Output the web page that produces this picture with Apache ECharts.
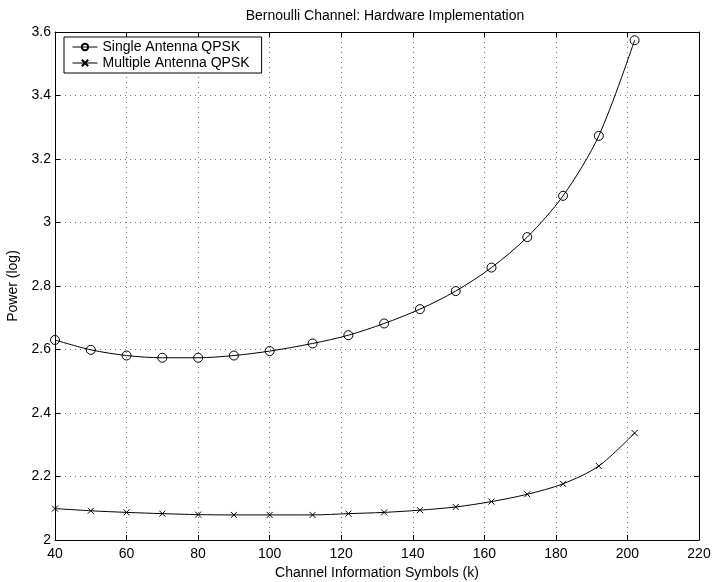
<!DOCTYPE html>
<html>
<head>
<meta charset="utf-8">
<script src="https://cdn.jsdelivr.net/npm/echarts@6/dist/echarts.min.js"></script>
<style>
html, body { margin: 0; padding: 0; background: #fff; }
#chart { width: 715px; height: 582px; }
</style>
</head>
<body>
<div id="chart"></div>
<script>
// data
var symbolsK = [40, 50, 60, 70, 80, 90, 100, 112, 122, 132, 142, 152, 162, 172, 182, 192, 202];
var singleQpsk = [2.630, 2.599, 2.581, 2.574, 2.574, 2.581, 2.595, 2.619, 2.645, 2.682, 2.727, 2.784, 2.858, 2.954, 3.084, 3.273, 3.574];
var multiQpsk = [2.099, 2.092, 2.087, 2.083, 2.080, 2.079, 2.079, 2.079, 2.083, 2.087, 2.094, 2.104, 2.121, 2.144, 2.177, 2.233, 2.337];

var font = 'Liberation Sans, Arial, Helvetica, sans-serif';
var fs = 14;
var circlePath = 'path://M0,5A5,5 0 1,1 10,5A5,5 0 1,1 0,5Z';
var crossPath = 'path://M0,0L10,10M10,0L0,10';

function pairs(ys) {
    return symbolsK.map(function (x, i) { return [x, ys[i]]; });
}

var chart = echarts.init(document.getElementById('chart'));

var gridLine = { show: true, lineStyle: { color: '#000', type: [1, 4], width: 1, opacity: 0.55 } };
var tick = { show: true, inside: true, length: 5, lineStyle: { color: '#000' } };
var line = { show: true, onZero: false, lineStyle: { color: '#000', width: 1 } };

chart.setOption({
    animation: false,
    backgroundColor: '#fff',
    title: {
        text: 'Bernoulli Channel: Hardware Implementation',
        left: 380, top: 4, textAlign: 'center',
        textStyle: { fontFamily: font, fontSize: fs, fontWeight: 'normal', color: '#000' }
    },
    grid: { left: 55, right: 16, top: 32, bottom: 42, outerBoundsMode: 'none' },
    legend: {
        orient: 'vertical',
        left: 64, top: 37,
        itemWidth: 25, itemHeight: 8, itemGap: 2,
        padding: [3, 12, 3, 8],
        borderColor: '#000', borderWidth: 1, backgroundColor: '#fff',
        lineStyle: { width: 1 },
        textStyle: { fontFamily: font, fontSize: fs, color: '#000' },
        data: ['Single Antenna QPSK', 'Multiple Antenna QPSK']
    },
    xAxis: [{
        type: 'value', min: 40, max: 220, interval: 20,
        name: 'Channel Information Symbols (k)', nameLocation: 'middle', nameGap: 25,
        nameTextStyle: { fontFamily: font, fontSize: fs, color: '#000' },
        axisLine: line, axisTick: tick, splitLine: gridLine,
        axisLabel: { fontFamily: font, fontSize: fs, color: '#000', margin: 7 }
    }, {
        type: 'value', min: 40, max: 220, interval: 20, position: 'top',
        axisLine: line, axisTick: tick, splitLine: { show: false }, axisLabel: { show: false }
    }],
    yAxis: [{
        type: 'value', min: 2, max: 3.6, interval: 0.2,
        name: 'Power (log)', nameLocation: 'middle', nameGap: 25,
        nameTextStyle: { fontFamily: font, fontSize: fs, color: '#000' },
        axisLine: line, axisTick: tick, splitLine: gridLine,
        axisLabel: { fontFamily: font, fontSize: fs, color: '#000', margin: 4,
            formatter: function (v) { return String(Math.round(v * 10) / 10); } }
    }, {
        type: 'value', min: 2, max: 3.6, interval: 0.2, position: 'right',
        axisLine: line, axisTick: tick, splitLine: { show: false }, axisLabel: { show: false }
    }],
    series: [{
        name: 'Single Antenna QPSK',
        type: 'line',
        data: pairs(singleQpsk),
        smooth: 0.3,
        symbol: circlePath, symbolSize: 9,
        lineStyle: { color: '#000', width: 1 },
        itemStyle: { color: 'rgba(255,255,255,0)', borderColor: '#000', borderWidth: 1 }
    }, {
        name: 'Multiple Antenna QPSK',
        type: 'line',
        data: pairs(multiQpsk),
        smooth: 0.3,
        symbol: crossPath, symbolSize: 6,
        lineStyle: { color: '#000', width: 1 },
        itemStyle: { color: '#000', borderColor: '#000', borderWidth: 1 }
    }]
});
</script>
</body>
</html>
